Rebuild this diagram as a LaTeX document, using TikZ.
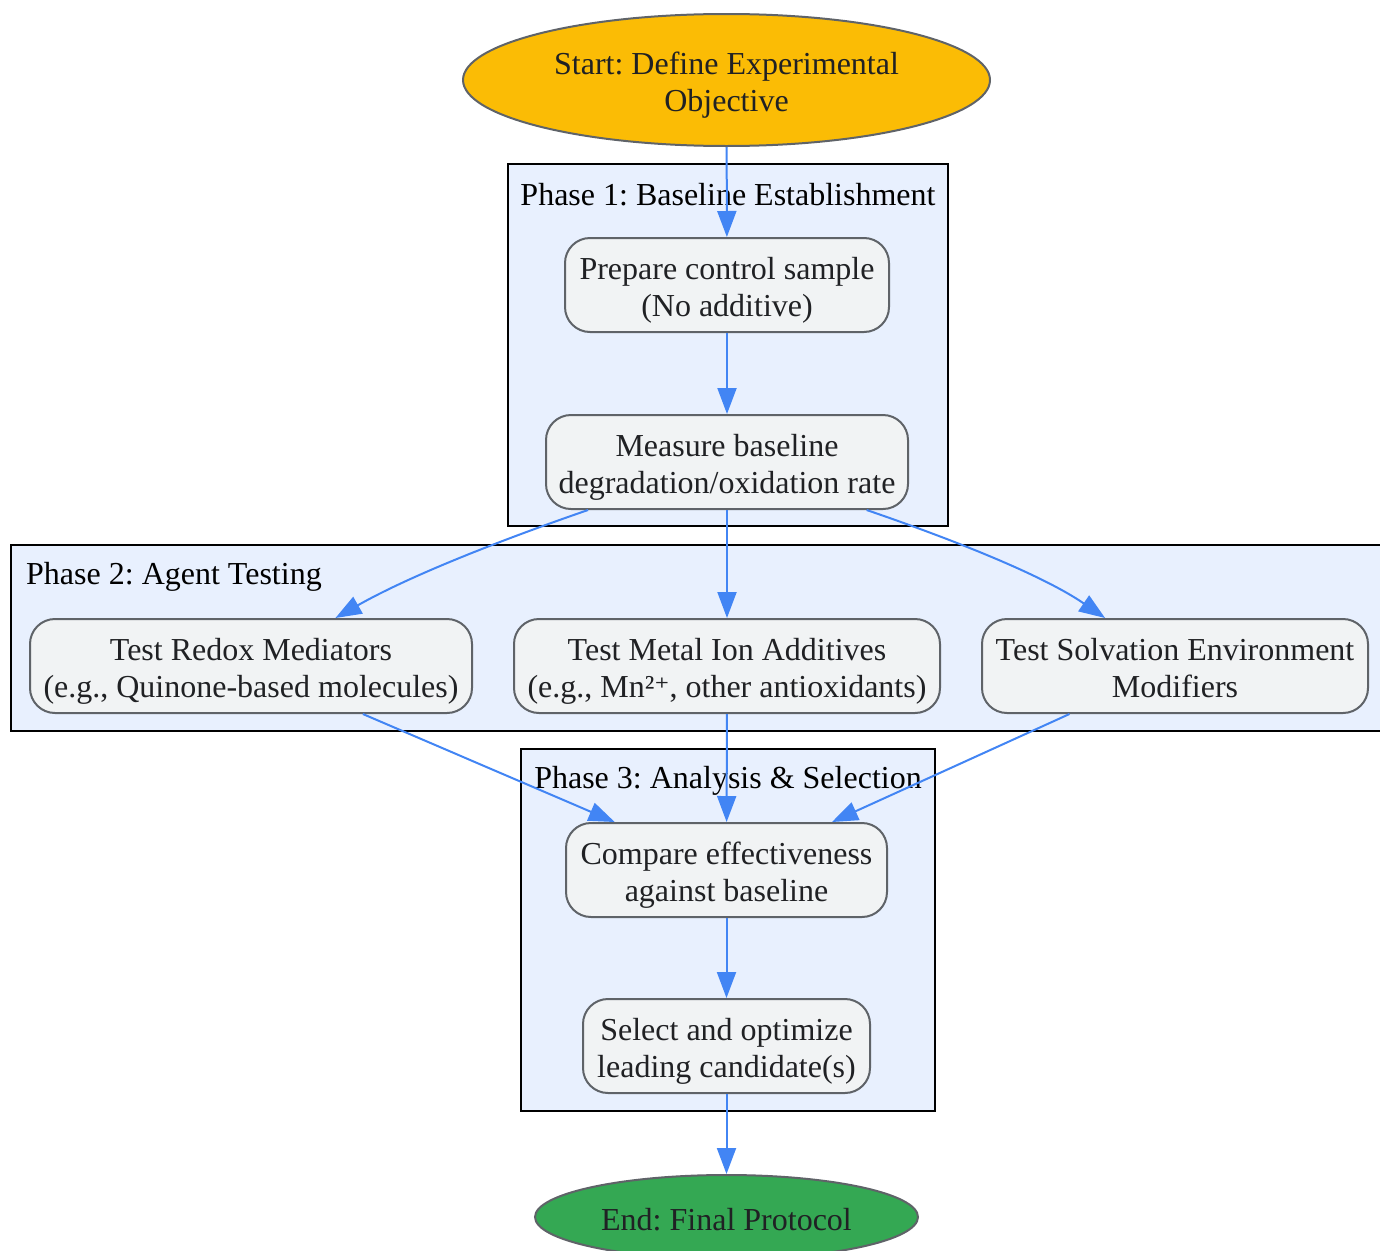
\documentclass[tikz,border=0pt]{standalone}
\usepackage{fontspec}
\setmainfont{Liberation Serif}
\newfontfamily\supfont[Scale=0.9]{DejaVu Serif}
\usetikzlibrary{shapes.geometric,arrows.meta}
\definecolor{edgeblue}{HTML}{4285F4}
\definecolor{nodefill}{HTML}{F1F3F4}
\definecolor{nodeline}{HTML}{5F6368}
\definecolor{txt}{HTML}{202124}
\definecolor{clusterfill}{HTML}{E8F0FE}
\definecolor{startfill}{HTML}{FBBC05}
\definecolor{endfill}{HTML}{34A853}
\newcommand{\lowtxt}[1]{\raisebox{-6pt}[\height][\depth]{\begin{tabular}{@{}c@{}}#1\end{tabular}}}
\frenchspacing
\begin{document}
\begin{tikzpicture}[x=1pt,y=-1pt,
  every node/.style={font=\fontsize{32}{37}\selectfont},
  box/.style={draw=nodeline, line width=2pt, fill=nodefill, rounded corners=25pt, text=txt, minimum height=94pt, inner sep=0pt},
  terminal/.style={ellipse, draw=nodeline, line width=2pt, text=txt, inner sep=0pt},
  cluster/.style={draw=black, line width=2pt, fill=clusterfill},
  clabel/.style={text=black, inner sep=0pt},
  flow/.style={draw=edgeblue, line width=2pt, -{Triangle[length=26pt,width=19pt]}}]
\useasboundingbox (0,0) rectangle (1380,1250);
% clusters
\path[cluster] (508,164) rectangle (948,526);
\path[cluster] (11,545) rectangle (1390,731);
\path[cluster] (521,749) rectangle (935,1111);
\node[clabel] (l1) at (728,195) {Phase 1: Baseline Establishment};
\node[clabel, anchor=west] (l2) at (26,577) {Phase 2: Agent Testing};
\node[clabel] (l3) at (728,781) {Phase 3: Analysis \& Selection};
% nodes
\node[terminal, fill=startfill, minimum width=527pt, minimum height=132pt] (start) at (726.5,80) {\lowtxt{Start: Define Experimental\\Objective}};
\node[box, minimum width=324pt] (prep) at (727,285) {\lowtxt{Prepare control sample\\(No additive)}};
\node[box, minimum width=362pt] (meas) at (727,462) {\lowtxt{Measure baseline\\degradation/oxidation rate}};
\node[box, minimum width=442pt] (redox) at (251,666) {\lowtxt{Test Redox Mediators\\(e.g., Quinone-based molecules)}};
\node[box, minimum width=426pt] (metal) at (727,666) {\lowtxt{Test Metal Ion Additives\\(e.g., Mn²{\supfont ⁺}, other antioxidants)}};
\node[box, minimum width=386pt] (solv) at (1175,666) {\lowtxt{Test Solvation Environment\\Modifiers}};
\node[box, minimum width=321pt] (comp) at (726.5,870) {\lowtxt{Compare effectiveness\\against baseline}};
\node[box, minimum width=287pt] (sel) at (726.5,1046) {\lowtxt{Select and optimize\\leading candidate(s)}};
\node[terminal, fill=endfill, minimum width=383pt, minimum height=84pt] (end) at (726.5,1217) {\lowtxt{End: Final Protocol}};
% edges
\draw[flow] (start) -- (prep);
\draw[flow] (prep) -- (meas);
\draw[flow] (meas) .. controls (530,530) and (420,570) .. (redox);
\draw[flow] (meas) -- (metal);
\draw[flow] (meas) .. controls (925,530) and (1035,570) .. (solv);
\draw[flow] (redox) -- (comp);
\draw[flow] (metal) -- (comp);
\draw[flow] (solv) -- (comp);
\draw[flow] (comp) -- (sel);
\draw[flow] (sel) -- (end);
\end{tikzpicture}
\end{document}
